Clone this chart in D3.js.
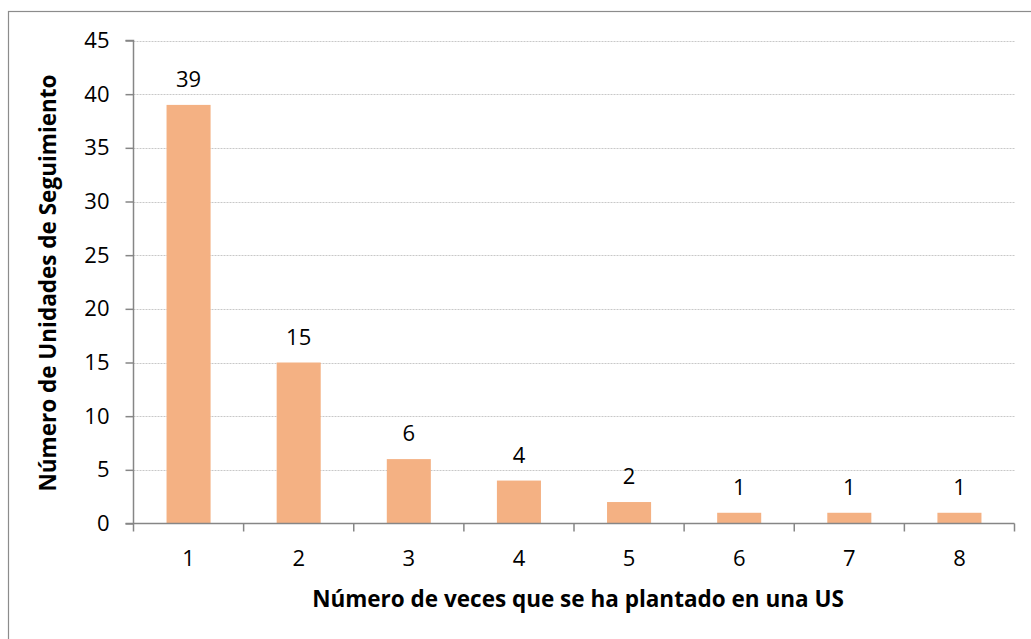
<!DOCTYPE html>
<html lang="es">
<head>
<meta charset="UTF-8">
<title>Plantaciones por US</title>
<style>
  body { margin: 0; background: #fff; }
  svg { display: block; font-family: "Open Sans", Lato, sans-serif; }
</style>
</head>
<body>
<div class="chart"></div>
<script src="https://d3js.org/d3.v7.min.js"></script>
<script>
// data
var categories = ["1", "2", "3", "4", "5", "6", "7", "8"];
var values = [39, 15, 6, 4, 2, 1, 1, 1];
var yTicks = [0, 5, 10, 15, 20, 25, 30, 35, 40, 45];
var xTitle = "Número de veces que se ha plantado en una US";
var yTitle = "Número de Unidades de Seguimiento";

var width = 1031, height = 639;
var plotLeft = 133.5, plotRight = 1014.5, plotTop = 40.5, plotBottom = 523.5;
var numFont = "22px";

var svg = d3.select(".chart").append("svg")
    .attr("width", width)
    .attr("height", height);

// outer chart frame
svg.append("rect")
    .attr("x", 8.5).attr("y", 11.5)
    .attr("width", 1040).attr("height", 700)
    .style("fill", "none")
    .style("stroke", "#8c8c8c")
    .style("stroke-width", 1.2);

var x = d3.scaleBand()
    .domain(categories)
    .range([plotLeft, plotRight])
    .paddingInner(0.6)
    .paddingOuter(0.3);

var y = d3.scaleLinear()
    .domain([0, 45])
    .range([plotBottom, plotTop]);

// gridlines
svg.append("g").selectAll("line")
    .data(yTicks.filter(function(d) { return d > 0; }))
    .enter().append("line")
    .attr("x1", plotLeft).attr("x2", plotRight)
    .attr("y1", function(d) { return Math.round(y(d)) + 0.5; })
    .attr("y2", function(d) { return Math.round(y(d)) + 0.5; })
    .style("stroke", "#c8c8c8")
    .style("stroke-dasharray", "2,1");

// bars
svg.append("g").selectAll("rect")
    .data(values)
    .enter().append("rect")
    .attr("x", function(d, i) { return x(categories[i]); })
    .attr("y", function(d) { return y(d); })
    .attr("width", x.bandwidth())
    .attr("height", function(d) { return y(0) - y(d); })
    .style("fill", "#f4b183");

// value labels
svg.append("g").selectAll("text")
    .data(values)
    .enter().append("text")
    .attr("x", function(d, i) { return x(categories[i]) + x.bandwidth() / 2; })
    .attr("y", function(d) { return y(d) - 18; })
    .attr("text-anchor", "middle")
    .style("font-size", numFont)
    .style("fill", "#000")
    .text(function(d) { return d; });

// y axis
var yAxis = d3.axisLeft(y).tickValues(yTicks).tickSize(8).tickPadding(16);
var gy = svg.append("g")
    .attr("transform", "translate(" + plotLeft + ",0)")
    .call(yAxis);
gy.select(".domain").style("stroke", "#868686").style("stroke-width", 1.5)
    .attr("d", "M-8," + plotTop + "H0V" + plotBottom);
gy.selectAll(".tick line").style("stroke", "#868686").style("stroke-width", 1.5);
gy.selectAll(".tick text")
    .style("font-size", numFont)
    .style("font-family", "'Open Sans', Lato, sans-serif")
    .style("fill", "#000");

// x axis: ticks on category boundaries
var gx = svg.append("g").attr("transform", "translate(0," + plotBottom + ")");
gx.append("line")
    .attr("x1", plotLeft - 8).attr("x2", plotRight)
    .style("stroke", "#868686").style("stroke-width", 1.5);
var step = (plotRight - plotLeft) / categories.length;
gx.selectAll(".bt")
    .data(d3.range(categories.length + 1))
    .enter().append("line")
    .attr("x1", function(i) { return plotLeft + i * step; })
    .attr("x2", function(i) { return plotLeft + i * step; })
    .attr("y1", 0).attr("y2", 8)
    .style("stroke", "#868686").style("stroke-width", 1.5);
gx.selectAll("text")
    .data(categories)
    .enter().append("text")
    .attr("x", function(d) { return x(d) + x.bandwidth() / 2; })
    .attr("y", 42.5)
    .attr("text-anchor", "middle")
    .style("font-size", numFont)
    .style("fill", "#000")
    .text(function(d) { return d; });

// axis titles
svg.append("text")
    .attr("x", 578)
    .attr("y", 607)
    .attr("text-anchor", "middle")
    .style("font-size", "22.5px")
    .style("font-weight", "bold")
    .text(xTitle);

svg.append("text")
    .attr("transform", "translate(56,283) rotate(-90)")
    .attr("text-anchor", "middle")
    .style("font-size", "22.5px")
    .style("font-weight", "bold")
    .text(yTitle);
</script>
</body>
</html>
